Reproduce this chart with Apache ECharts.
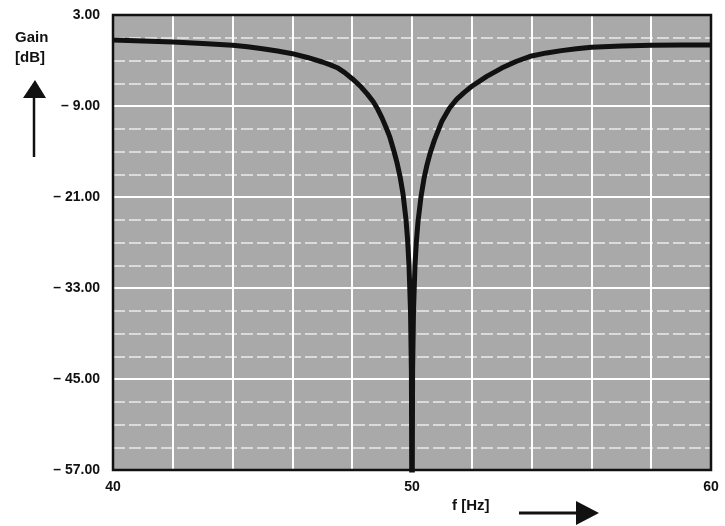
<!DOCTYPE html>
<html>
<head>
<meta charset="utf-8">
<script src="https://cdn.jsdelivr.net/npm/echarts@6/dist/echarts.min.js"></script>
<style>
  html, body { margin: 0; padding: 0; background: #fff; }
  #chart { width: 725px; height: 526px; }
</style>
</head>
<body>
<div id="chart"></div>
<script>
// frequency (Hz) and gain (dB)
const freqs = [40, 41, 42, 43, 44, 44.5, 45, 45.5, 46, 46.5, 47, 47.25, 47.5, 47.75, 48, 48.3, 48.5, 48.7, 48.85, 49, 49.15, 49.25,
               49.4, 49.5, 49.6, 49.7, 49.8, 49.85, 49.9, 49.95, 49.98, 50,
               50.02, 50.05, 50.1, 50.15, 50.2, 50.3, 50.4, 50.5, 50.6, 50.75, 51, 51.25, 51.5, 51.75, 52,
               52.5, 53, 53.5, 54, 54.5, 55, 55.5, 56, 57, 58, 59, 60];
const gains = [-0.3, -0.42, -0.55, -0.75, -1.0, -1.2, -1.45, -1.75, -2.1, -2.6, -3.2, -3.55, -3.95, -4.6, -5.4, -6.5, -7.4, -8.4, -9.4, -10.6, -12.0, -13.0,
               -15.0, -16.5, -18.3, -20.6, -24.0, -26.5, -30.0, -36, -44, -70,
               -44, -36, -30.0, -26.7, -24.3, -21.0, -18.6, -16.8, -15.3, -13.5, -11.0, -9.3, -8.1, -7.2, -6.4,
               -5.1, -4.0, -3.1, -2.4, -2.0, -1.7, -1.45, -1.25, -1.08, -1.0, -0.97, -0.96];

const yTicks = [3, -9, -21, -33, -45, -57];
const xTicks = [40, 50, 60];

const chart = echarts.init(document.getElementById('chart'));

const points = freqs.map((f, i) => [f, gains[i]]);

// plot frame (same box as the grid)
const frame = { left: 113, top: 15, width: 598, height: 455 };

chart.setOption({
  animation: false,
  textStyle: { fontFamily: 'Liberation Sans, Arial, sans-serif' },
  grid: {
    left: frame.left,
    top: frame.top,
    width: frame.width,
    height: frame.height,
    show: true,
    backgroundColor: '#a9a9a9',
    borderWidth: 0
  },
  xAxis: {
    type: 'value',
    min: 40,
    max: 60,
    interval: 2,
    axisLine: { show: false },
    axisTick: { show: false },
    axisLabel: {
      margin: 10,
      color: '#111',
      fontWeight: 'bold',
      fontSize: 14,
      formatter: v => xTicks.includes(v) ? String(v) : ''
    },
    splitLine: { lineStyle: { color: '#fff', width: 2 } }
  },
  yAxis: {
    type: 'value',
    min: -57,
    max: 3,
    interval: 12,
    axisLine: { show: false },
    axisTick: { show: false },
    axisLabel: {
      margin: 13,
      color: '#111',
      fontWeight: 'bold',
      fontSize: 14,
      formatter: v => {
        if (!yTicks.includes(v)) return '';
        return v < 0 ? '\u2013 ' + (-v).toFixed(2) : v.toFixed(2);
      }
    },
    splitLine: { lineStyle: { color: '#fff', width: 2 } },
    minorTick: { show: false, splitNumber: 4 },
    minorSplitLine: { show: true, lineStyle: { color: '#ececec', width: 1.5, type: [12, 4] } }
  },
  series: [
    {
      type: 'line',
      data: points,
      showSymbol: false,
      clip: true,
      lineStyle: { color: '#111', width: 5, join: 'round' }
    }
  ],
  graphic: [
    {
      type: 'rect', z: 100,
      shape: { x: frame.left, y: frame.top, width: frame.width, height: frame.height },
      style: { fill: 'none', stroke: '#111', lineWidth: 2.5 }
    },
    {
      type: 'text', left: 15, top: 28,
      style: { text: 'Gain\n[dB]', font: 'bold 15px Liberation Sans', fill: '#111', lineHeight: 20 }
    },
    {
      type: 'polygon',
      shape: { points: [[35, 80], [23, 98], [46, 98]] },
      style: { fill: '#111' }
    },
    {
      type: 'line',
      shape: { x1: 34, y1: 97, x2: 34, y2: 157 },
      style: { stroke: '#111', lineWidth: 2.5 }
    },
    {
      type: 'text', left: 452, top: 498,
      style: { text: 'f [Hz]', font: 'bold 15px Liberation Sans', fill: '#111' }
    },
    {
      type: 'line',
      shape: { x1: 519, y1: 513, x2: 580, y2: 513 },
      style: { stroke: '#111', lineWidth: 3 }
    },
    {
      type: 'polygon',
      shape: { points: [[576, 501], [576, 525], [599, 513]] },
      style: { fill: '#111' }
    }
  ]
});
</script>
</body>
</html>
